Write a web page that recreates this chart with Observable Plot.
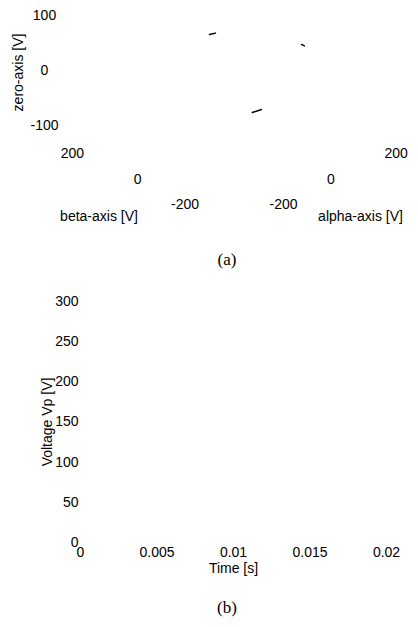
<!DOCTYPE html>
<html><head><meta charset="utf-8">
<script src="https://cdn.jsdelivr.net/npm/d3@7"></script>
<script src="https://cdn.jsdelivr.net/npm/@observablehq/plot@0.6"></script>
<style>
html,body{margin:0;padding:0;background:#fff;}
body{width:418px;height:627px;position:relative;overflow:hidden;font-family:"Liberation Sans",Arial,sans-serif;}
#a{position:absolute;left:0;top:0;}
#b{position:absolute;left:0;top:280px;}
.cap{position:absolute;width:60px;text-align:center;font-family:"Liberation Serif","Times New Roman",serif;font-size:17px;line-height:20px;color:#000;}
</style></head><body>
<div id="a"></div>
<div class="cap" style="left:197px;top:250px">(a)</div>
<div id="b"></div>
<div class="cap" style="left:197px;top:598px">(b)</div>
<script>
// ---- panel (a): 3-D voltage trajectory (alpha, beta, zero) ----
const alphaTicks = [-200, 0, 200];
const betaTicks = [200, 0, -200];
const zeroTicks = [100, 0, -100];
const alphaLabel = "alpha-axis [V]";
const betaLabel = "beta-axis [V]";
const zeroLabel = "zero-axis [V]";
// the only visible fragments of the trajectory, [alpha, beta, zero]
const frag1 = [[57, 151, 40], [73, 146, 40]];
const frag2 = [[178, -48, 40], [177, -59, 40]];
const frag3 = [[-2, -57, -40], [26, -61, -40]];

// ---- panel (b): Voltage Vp vs time ----
const timeTicks = [0, 0.005, 0.01, 0.015, 0.02];
const voltTicks = [0, 50, 100, 150, 200, 250, 300];
const timeLabel = "Time [s]";
const voltLabel = "Voltage Vp [V]";

const FONT = '"Liberation Sans", Arial, sans-serif';

// orthographic projection of the 3-D axes box (view similar to MATLAB default)
const P = ([a, b, z]) => [236 + 0.2875 * (a - b), 82.5 - 0.1275 * (a + b) - 0.55 * z];
const px = f => d => P(f(d))[0];
const py = f => d => P(f(d))[1];

const plotA = Plot.plot({
  width: 418, height: 235,
  margin: 0,
  style: {fontFamily: FONT, fontSize: "14px", background: "white", color: "black", overflow: "visible"},
  x: {type: "identity", axis: null},
  y: {type: "identity", axis: null},
  marks: [
    Plot.text(alphaTicks, {x: px(a => [a, -200, -100]), y: py(a => [a, -200, -100]), text: a => String(a), textAnchor: "start", dx: 33, dy: 16}),
    Plot.text(betaTicks, {x: px(b => [-200, b, -100]), y: py(b => [-200, b, -100]), text: b => String(b), textAnchor: "end", dx: -37.5, dy: 16}),
    Plot.text(zeroTicks, {x: px(z => [-200, 200, z]), y: py(z => [-200, 200, z]), text: z => String(z), textAnchor: "middle", dx: -77, dy: -12}),
    Plot.text([alphaLabel], {x: px(() => [0, -200, -100]), y: py(() => [0, -200, -100]), text: d => d, dx: 66.5, dy: 53}),
    Plot.text([betaLabel], {x: px(() => [-200, 0, -100]), y: py(() => [-200, 0, -100]), text: d => d, dx: -80, dy: 53}),
    Plot.text([zeroLabel], {x: px(() => [-200, 200, 0]), y: py(() => [-200, 200, 0]), text: d => d, rotate: -90, dx: -103, dy: -10.5}),
    Plot.line(frag1, {x: px(d => d), y: py(d => d), stroke: "black", strokeWidth: 1.4}),
    Plot.line(frag2, {x: px(d => d), y: py(d => d), stroke: "black", strokeWidth: 1.4}),
    Plot.line(frag3, {x: px(d => d), y: py(d => d), stroke: "black", strokeWidth: 1.4})
  ]
});
document.getElementById("a").appendChild(plotA);

const plotB = Plot.plot({
  width: 418, height: 298,
  marginLeft: 80, marginRight: 32, marginTop: 21, marginBottom: 36,
  style: {fontFamily: FONT, fontSize: "14px", background: "white", color: "black", overflow: "visible"},
  x: {domain: [0, 0.02], ticks: timeTicks, tickSize: 0, tickPadding: 5, tickFormat: d => String(d), label: null},
  y: {domain: [0, 300], ticks: voltTicks, tickSize: 0, tickPadding: 2, tickFormat: d => String(d), label: null},
  marks: [
    Plot.text([timeLabel], {frameAnchor: "bottom", text: d => d, textAnchor: "middle", lineAnchor: "middle", dy: 26}),
    Plot.text([voltLabel], {frameAnchor: "left", text: d => d, textAnchor: "middle", lineAnchor: "middle", rotate: -90, dx: -33})
  ]
});
document.getElementById("b").appendChild(plotB);
</script>
</body></html>
